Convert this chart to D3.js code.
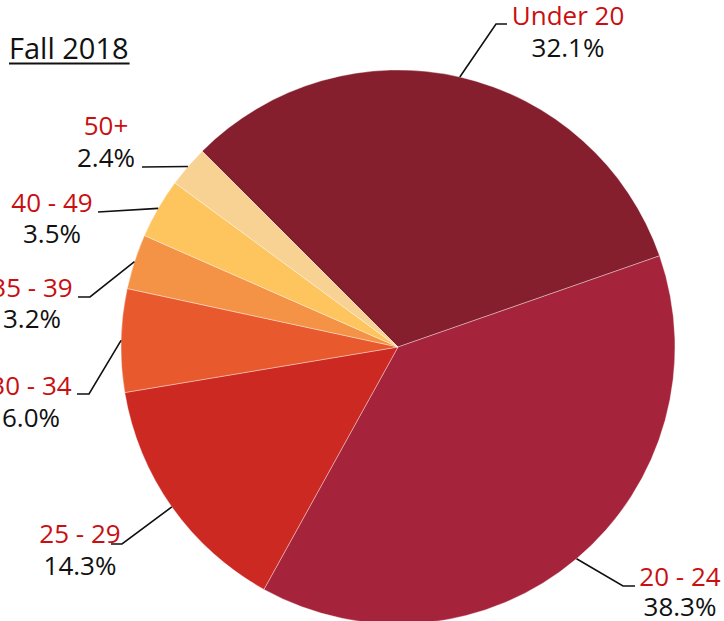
<!DOCTYPE html>
<html>
<head>
<meta charset="utf-8">
<script src="https://cdn.jsdelivr.net/npm/d3@7"></script>
<style>
  html, body { margin: 0; padding: 0; background: #fff; }
  svg { display: block; }
  text { font-family: "Open Sans", "Liberation Sans", sans-serif; }
</style>
</head>
<body>
<svg id="chart" width="724" height="621"></svg>
<script>
// ---- data ----
const categories = ["Under 20", "20 - 24", "25 - 29", "30 - 34", "35 - 39", "40 - 49", "50+"];
const values = [32.1, 38.3, 14.3, 6.0, 3.2, 3.5, 2.4];
const valueLabels = ["32.1%", "38.3%", "14.3%", "6.0%", "3.2%", "3.5%", "2.4%"];
const colors = ["#851f2e", "#a5243b", "#cd2923", "#e9592e", "#f49245", "#fec45e", "#f7d292"];
const title = "Fall 2018";

// ---- layout (label placement: elbow, line end, text centre, first baseline, line gap) ----
const labelLayout = [
  { elbow: [496, 24],  endX: 507, cx: 568, y: 25,  gap: 32 },
  { elbow: [623, 586], endX: 635, cx: 680, y: 586, gap: 30 },
  { elbow: [122, 544], endX: 111, cx: 80,  y: 543, gap: 32 },
  { elbow: [89, 394],  endX: 77,  cx: 31,  y: 395, gap: 32 },
  { elbow: [90, 297],  endX: 78,  cx: 32,  y: 297, gap: 31 },
  { elbow: [98, 212],  endX: 98,  cx: 52,  y: 212, gap: 31 },
  { elbow: [142, 167], endX: 142, cx: 106, y: 135, gap: 32 }
];

const svg = d3.select("#chart");
const cx = 398, cy = 347, radius = 277;

const pie = d3.pie()
  .value(d => d.value)
  .sort(null)
  .startAngle(-Math.PI / 4)
  .endAngle(-Math.PI / 4 + 2 * Math.PI);

const data = categories.map((c, i) => ({ cat: c, value: values[i], label: valueLabels[i], color: colors[i], layout: labelLayout[i] }));
const arcs = pie(data);

const arc = d3.arc().innerRadius(0).outerRadius(radius);
const edgeArc = d3.arc().innerRadius(radius).outerRadius(radius);

const g = svg.append("g").attr("transform", `translate(${cx},${cy})`);

g.selectAll("path.slice")
  .data(arcs)
  .enter().append("path")
  .attr("class", "slice")
  .attr("d", arc)
  .attr("fill", d => d.data.color)
  .attr("stroke", "#ffffff")
  .attr("stroke-opacity", 0.6)
  .attr("stroke-width", 0.6);

// leader lines
const lines = svg.append("g");
arcs.forEach(d => {
  const p = edgeArc.centroid(d);
  const start = [p[0] + cx, p[1] + cy];
  const L = d.data.layout;
  lines.append("path")
    .attr("d", d3.line()([start, L.elbow, [L.endX, L.elbow[1]]]))
    .attr("fill", "none")
    .attr("stroke", "#111")
    .attr("stroke-width", 1.6);
});

// labels (category + value as one text block with two lines)
const labels = svg.append("g");
arcs.forEach(d => {
  const L = d.data.layout;
  const txt = labels.append("text")
    .attr("x", L.cx).attr("y", L.y)
    .attr("text-anchor", "middle")
    .attr("font-size", 26);
  txt.append("tspan")
    .attr("x", L.cx)
    .attr("fill", "#c90f12")
    .text(d.data.cat);
  txt.append("tspan")
    .attr("x", L.cx)
    .attr("dy", L.gap)
    .attr("fill", "#111")
    .text(d.data.label);
});

// title
const t = svg.append("text")
  .attr("x", 9).attr("y", 59)
  .attr("font-size", 29)
  .attr("fill", "#111")
  .text(title);
const tw = t.node().getComputedTextLength();
svg.append("line")
  .attr("x1", 9).attr("x2", 9 + tw + 1)
  .attr("y1", 63.5).attr("y2", 63.5)
  .attr("stroke", "#111")
  .attr("stroke-width", 2);
</script>
</body>
</html>
